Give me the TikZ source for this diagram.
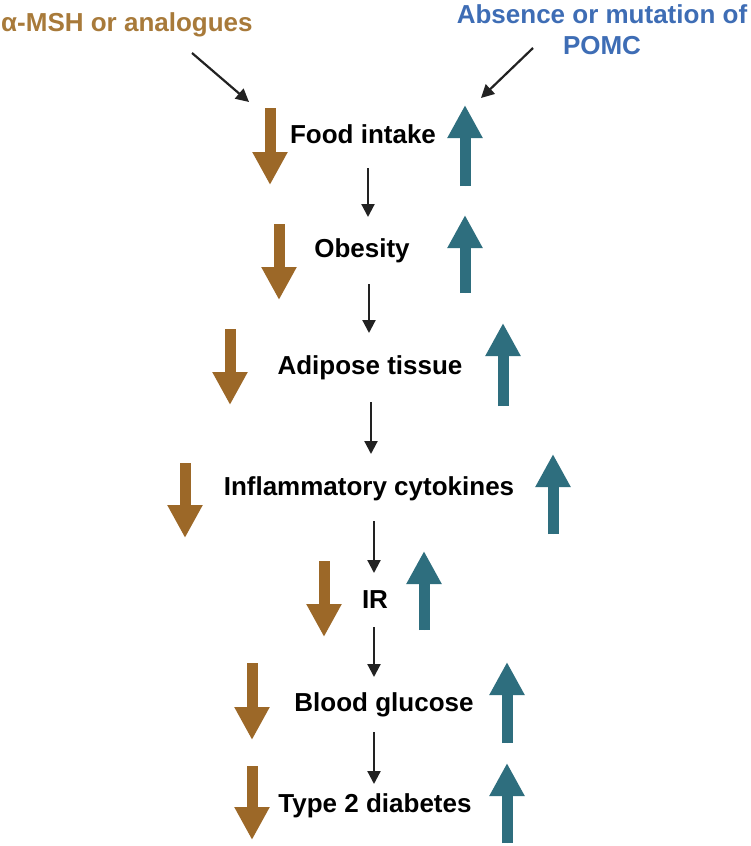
\documentclass[tikz,border=0pt]{standalone}
\usepackage{fontspec}
\setmainfont{Liberation Sans}
\usetikzlibrary{arrows.meta}
\definecolor{brownarrow}{RGB}{156,104,40}
\definecolor{tealarrow}{RGB}{46,110,126}
\definecolor{browntext}{RGB}{168,122,58}
\definecolor{bluetext}{RGB}{62,109,181}
\definecolor{linkgray}{RGB}{34,34,34}
\begin{document}
\begin{tikzpicture}[x=1pt,y=-1pt,
  lbl/.style={font=\fontsize{26}{31}\selectfont\bfseries, inner sep=0pt, anchor=base},
  link/.style={draw=linkgray, line width=2.2pt, -{Triangle[width=13pt,length=13pt]}},
  downarr/.style={draw=brownarrow, line width=11pt, -{Triangle[width=33pt,length=33pt]}, fill=brownarrow},
  uparr/.style={draw=tealarrow, line width=11pt, -{Triangle[width=33pt,length=33pt]}, fill=tealarrow}]
\useasboundingbox[fill=white] (0,0) rectangle (750,846);

% titles
\node[lbl, text=browntext, anchor=base west] (msh) at (1,31) {α-MSH or analogues};
\node[lbl, text=bluetext, align=center, anchor=base] (pomc) at (602,54) {Absence or mutation of\\POMC};

% chain texts
\node[lbl] (food) at (363,143) {Food intake};
\node[lbl] (obesity) at (362,257) {Obesity};
\node[lbl] (adipose) at (370,374) {Adipose tissue};
\node[lbl] (inflam) at (369,495) {Inflammatory cytokines};
\node[lbl] (ir) at (375,608) {IR};
\node[lbl] (blood) at (384,711) {Blood glucose};
\node[lbl] (type2) at (375,812) {Type 2 diabetes};

% diagonal arrows
\coordinate (mshend) at (249,102);
\coordinate (pomcend) at (481,98);
\draw[link] ([shift={(191,22)}]msh.base west) -- (mshend);
\draw[link] ([shift={(-69,-6)}]pomc.base) -- (pomcend);

% chain connectors
\draw[link] ([shift={(5,25)}]food.base) -- ([shift={(6,-40)}]obesity.base);
\draw[link] ([shift={(7,27)}]obesity.base) -- ([shift={(-1,-41)}]adipose.base);
\draw[link] ([shift={(1,28)}]adipose.base) -- ([shift={(2,-41)}]inflam.base);
\draw[link] ([shift={(5,26)}]inflam.base) -- ([shift={(-1,-35)}]ir.base);
\draw[link] ([shift={(-1,19)}]ir.base) -- ([shift={(-10,-34)}]blood.base);
\draw[link] ([shift={(-10,21)}]blood.base) -- ([shift={(-1,-28)}]type2.base);

% brown down arrows
\draw[downarr] (270,108) -- (270,185);
\draw[downarr] (279,224) -- (279,300);
\draw[downarr] (230,329) -- (230,405);
\draw[downarr] (185,463) -- (185,538);
\draw[downarr] (324,561) -- (324,637);
\draw[downarr] (252,663) -- (252,740);
\draw[downarr] (252,766) -- (252,840);

% teal up arrows
\draw[uparr] (465,186) -- (465,105);
\draw[uparr] (465,293) -- (465,215);
\draw[uparr] (503,406) -- (503,323);
\draw[uparr] (553,534) -- (553,454);
\draw[uparr] (424,630) -- (424,551);
\draw[uparr] (507,743) -- (507,662);
\draw[uparr] (507,843) -- (507,763);
\end{tikzpicture}
\end{document}
